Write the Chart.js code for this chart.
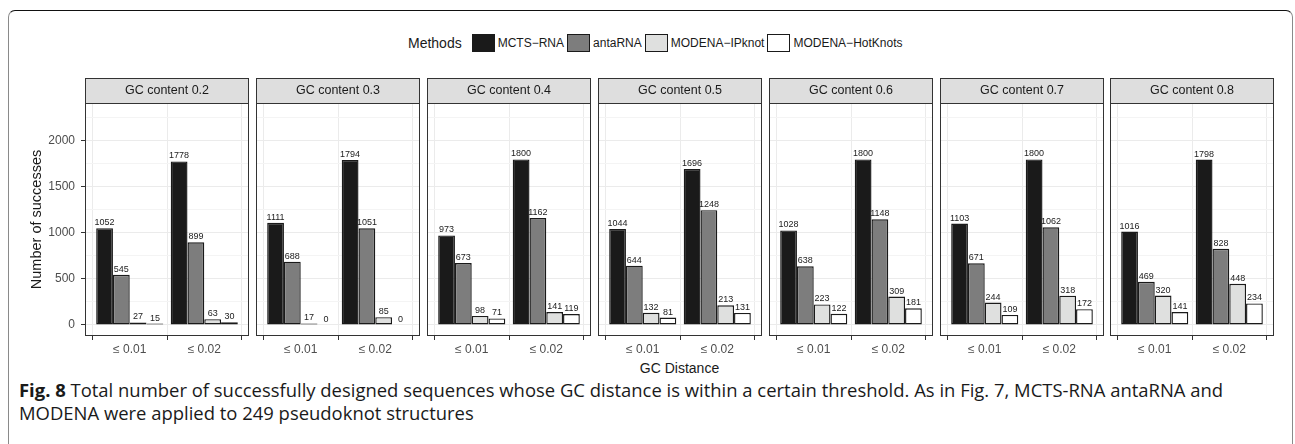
<!DOCTYPE html>
<html><head><meta charset="utf-8">
<script src="https://cdn.jsdelivr.net/npm/chart.js@4.4.1/dist/chart.umd.min.js"></script>
<style>
html,body{margin:0;padding:0;background:#fff;}
#wrap{position:relative;width:1295px;height:444px;overflow:hidden;font-family:"Liberation Sans",Arial,sans-serif;}
#frame{position:absolute;left:8px;top:10px;width:1285px;height:480px;border-top:1px solid #111;border-left:1.5px solid #8a8a8a;border-right:1.5px solid #8a8a8a;border-radius:7px 7px 0 0;box-sizing:border-box;}
canvas{position:absolute;}
#legend{position:absolute;left:408px;top:33px;height:20px;display:flex;align-items:center;white-space:nowrap;color:#1a1a1a;}
#legend .ttl{font-size:14px;margin-right:7px;}
#legend .box{width:23px;height:18px;border:1px solid #1a1a1a;box-sizing:border-box;margin-left:3px;}
#legend .lbl{font-size:12px;margin-left:3px;}
#xtitle{position:absolute;left:0;width:1359px;text-align:center;top:360px;font-size:14px;color:#1a1a1a;}
#caption{position:absolute;left:19px;top:378px;font-family:"Open Sans",sans-serif;font-size:16px;line-height:23px;color:#1a1a1a;white-space:nowrap;}
#caption b{font-weight:700;}
</style>
</head><body>
<div id="wrap">
  <div id="frame"></div>
  <div id="legend"></div>
  <div id="xtitle">GC Distance</div>
  <div id="caption"><span id="cap1"><b>Fig. 8</b> Total number of successfully designed sequences whose GC distance is within a certain threshold. As in Fig. 7, MCTS-RNA antaRNA and</span><br><span id="cap2">MODENA were applied to 249 pseudoknot structures</span></div>
</div>
<script>
// ---------------- data ----------------
const gcContents = ['0.2', '0.3', '0.4', '0.5', '0.6', '0.7', '0.8'];
const thresholds = ['\u2264 0.01', '\u2264 0.02'];
const methods = ['MCTS\u2212RNA', 'antaRNA', 'MODENA\u2212IPknot', 'MODENA\u2212HotKnots'];

// successes per GC content, for GC distance <= 0.01 and <= 0.02
const mctsRna01   = [1052, 1111, 973, 1044, 1028, 1103, 1016];
const mctsRna02   = [1778, 1794, 1800, 1696, 1800, 1800, 1798];
const antaRna01   = [545, 688, 673, 644, 638, 671, 469];
const antaRna02   = [899, 1051, 1162, 1248, 1148, 1062, 828];
const ipknot01    = [27, 17, 98, 132, 223, 244, 320];
const ipknot02    = [63, 85, 141, 213, 309, 318, 448];
const hotknots01  = [15, 0, 71, 81, 122, 109, 141];
const hotknots02  = [30, 0, 119, 131, 181, 172, 234];

const yMajorTicks = [0, 500, 1000, 1500, 2000];
const yMinorTicks = [250, 750, 1250, 1750, 2250];

// ---------------- styles / layout ----------------
const methodColors = ['#1a1a1a', '#7d7d7d', '#dfe0df', '#ffffff'];
const seriesByMethod = [[mctsRna01, mctsRna02], [antaRna01, antaRna02], [ipknot01, ipknot02], [hotknots01, hotknots02]];

const FRAME_LEFT = 10;
const PLOT_LEFT0 = 85;
const PANEL_W = 164;
const PANEL_STEP = 170.9;
const STRIP_TOP = 78;
const STRIP_H = 25;
const PLOT_H = 233;
const XAXIS_H = 22;
const Y_MIN = -120, Y_MAX = 2413;

// legend
const legend = document.getElementById('legend');
legend.innerHTML = '<span class="ttl">Methods</span>' + methods.map((m, i) =>
  `<span class="box" style="background:${methodColors[i]}"></span><span class="lbl">${m}</span>`).join('');

// fit caption line width
(function(){
  const c1 = document.getElementById('cap1');
  const w = c1.getBoundingClientRect().width;
  const target = 1204;
  const cap = document.getElementById('caption');
  cap.style.fontSize = (16 * target / w).toFixed(2) + 'px';
})();

const facetPlugin = {
  id: 'facet',
  afterDatasetsDraw(chart) {
    const ctx = chart.ctx;
    ctx.save();
    ctx.font = '9px "Liberation Sans", Arial, sans-serif';
    ctx.fillStyle = '#222';
    ctx.textAlign = 'center';
    ctx.textBaseline = 'alphabetic';
    chart.data.datasets.forEach((ds, di) => {
      const meta = chart.getDatasetMeta(di);
      meta.data.forEach((bar, j) => {
        ctx.fillText(String(ds.data[j].y), bar.x, bar.y - 3);
      });
    });
    ctx.restore();
  },
  afterDraw(chart, args, opts) {
    const ctx = chart.ctx;
    const a = chart.chartArea;
    ctx.save();
    const l = Math.round(a.left) + 0.5, r = Math.round(a.right) - 0.5;
    const t = Math.round(a.top) - STRIP_H + 0.5, b = Math.round(a.bottom) - 0.5;
    ctx.fillStyle = '#dedede';
    ctx.fillRect(l, t, r - l, STRIP_H);
    ctx.strokeStyle = '#333';
    ctx.lineWidth = 1;
    ctx.strokeRect(l, t, r - l, STRIP_H);
    ctx.strokeRect(l, Math.round(a.top) + 0.5, r - l, b - Math.round(a.top) - 0.5);
    ctx.fillStyle = '#1a1a1a';
    ctx.font = '12.5px "Liberation Sans", Arial, sans-serif';
    ctx.textAlign = 'center';
    ctx.textBaseline = 'middle';
    ctx.fillText(opts.title, (a.left + a.right) / 2, a.top - STRIP_H / 2 + 0.5);
    ctx.restore();
  }
};

const wrap = document.getElementById('wrap');
gcContents.forEach((gc, p) => {
  const first = p === 0;
  const plotLeft = Math.round(PLOT_LEFT0 + p * PANEL_STEP);
  const canvasLeft = first ? FRAME_LEFT : plotLeft;
  const yAxisW = plotLeft - canvasLeft;
  const cv = document.createElement('canvas');
  const W = yAxisW + PANEL_W, H = STRIP_H + PLOT_H + XAXIS_H;
  cv.width = W; cv.height = H;
  cv.style.left = canvasLeft + 'px';
  cv.style.top = STRIP_TOP + 'px';
  cv.style.width = W + 'px'; cv.style.height = H + 'px';
  wrap.appendChild(cv);

  const datasets = methods.map((m, mi) => ({
    label: m,
    data: thresholds.map((t, ti) => ({ x: ti + 1, y: seriesByMethod[mi][ti][p] })),
    backgroundColor: methodColors[mi],
    borderColor: '#1a1a1a',
    borderWidth: 1.4,
    borderSkipped: false,
    categoryPercentage: 0.9,
    barPercentage: 1.0
  }));

  new Chart(cv, {
    type: 'bar',
    data: { datasets },
    plugins: [facetPlugin],
    options: {
      responsive: false,
      animation: false,
      devicePixelRatio: 1,
      layout: { padding: { top: STRIP_H, left: 0, right: 0, bottom: 0 } },
      plugins: {
        legend: { display: false },
        tooltip: { enabled: false },
        facet: { title: 'GC content ' + gc }
      },
      scales: {
        x: {
          type: 'linear',
          min: 0.4, max: 2.6,
          offset: false,
          afterBuildTicks: s => { s.ticks = thresholds.map((t, i) => ({ value: i + 1 })); },
          afterFit: s => { s.height = XAXIS_H; },
          ticks: {
            autoSkip: false, maxRotation: 0, padding: 2,
            callback: (v, i) => thresholds[i],
            color: '#4d4d4d',
            font: { family: '"Liberation Sans", Arial, sans-serif', size: 12 }
          },
          grid: { color: '#ebebeb', lineWidth: 1, drawTicks: true, tickLength: 4, tickColor: '#333', tickWidth: 1 },
          border: { display: false }
        },
        y: {
          type: 'linear',
          min: Y_MIN, max: Y_MAX,
          afterBuildTicks: s => {
            s.ticks = yMajorTicks.concat(yMinorTicks).sort((a, b) => a - b).map(v => ({ value: v }));
          },
          afterFit: s => { s.width = yAxisW; },
          ticks: {
            display: first,
            padding: 6,
            callback: v => yMajorTicks.includes(v) ? String(v) : '',
            color: '#4d4d4d',
            font: { family: '"Liberation Sans", Arial, sans-serif', size: 12 }
          },
          grid: {
            color: c => (c.tick && yMinorTicks.includes(c.tick.value)) ? '#f4f4f4' : '#ebebeb',
            lineWidth: 1,
            drawTicks: first,
            tickLength: 4,
            tickColor: c => (c.tick && yMinorTicks.includes(c.tick.value)) ? 'rgba(0,0,0,0)' : '#333'
          },
          border: { display: false },
          title: {
            display: first,
            text: 'Number of successes',
            color: '#1a1a1a',
            font: { family: '"Liberation Sans", Arial, sans-serif', size: 14.5 },
            padding: { top: 18, bottom: 0 }
          }
        }
      }
    }
  });
});
</script>
</body></html>
